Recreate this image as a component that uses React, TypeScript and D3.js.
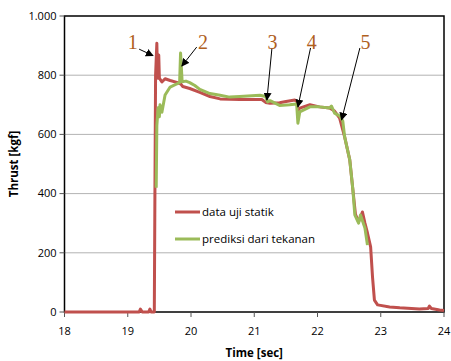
import React from "react";
import * as d3 from "d3";

// static test thrust (red) and prediction from chamber pressure (green)
const staticTest: [number, number][] = [
  [18, 0], [19.18, 0], [19.2, 10], [19.23, 0], [19.33, 0], [19.35, 10], [19.37, 0],
  [19.42, 0], [19.43, 420], [19.44, 800], [19.46, 908], [19.47, 800], [19.48, 790],
  [19.49, 868], [19.5, 790], [19.54, 777], [19.59, 788], [19.67, 782], [19.79, 775],
  [19.84, 770], [19.87, 762], [19.98, 755], [20.14, 742], [20.3, 728], [20.46, 720],
  [20.77, 718], [21.12, 718], [21.18, 708], [21.25, 705], [21.4, 707], [21.48, 710],
  [21.64, 716], [21.68, 710], [21.69, 680], [21.72, 689], [21.88, 700], [22.03, 693],
  [22.19, 689], [22.27, 679], [22.35, 655], [22.43, 591], [22.51, 514], [22.56, 412],
  [22.6, 330], [22.65, 305], [22.71, 338], [22.75, 300], [22.79, 267], [22.84, 220],
  [22.87, 118], [22.9, 40], [22.95, 24], [23.14, 17], [23.3, 14], [23.61, 10],
  [23.75, 12], [23.77, 20], [23.8, 12], [23.93, 7], [24, 5],
];

const prediction: [number, number][] = [
  [19.45, 420], [19.46, 630], [19.48, 690], [19.5, 660], [19.51, 700], [19.54, 675],
  [19.59, 733], [19.67, 760], [19.75, 768], [19.82, 775], [19.835, 875], [19.86, 778],
  [19.92, 780], [19.98, 775], [20.06, 765], [20.14, 752], [20.3, 738], [20.46, 732],
  [20.61, 726], [20.77, 728], [21.09, 732], [21.18, 728], [21.21, 710], [21.25, 714],
  [21.4, 698], [21.56, 700], [21.67, 703], [21.69, 638], [21.72, 676], [21.88, 693],
  [22.03, 693], [22.19, 689], [22.22, 696], [22.27, 672], [22.35, 662], [22.4, 645],
  [22.43, 591], [22.51, 514], [22.56, 412], [22.59, 328], [22.65, 300], [22.68, 328],
  [22.75, 284], [22.79, 226],
];

const xTicks = [18, 19, 20, 21, 22, 23, 24];
const yTicks = [0, 200, 400, 600, 800, 1000];
const yTickLabels = ["0", "200", "400", "600", "800", "1.000"];

// numbered callouts: label position, arrow start, arrow tip (data units)
const callouts = [
  { n: "1", label: [19.08, 912], from: [19.18, 888], to: [19.4, 866] },
  { n: "2", label: [20.19, 912], from: [20.09, 895], to: [19.855, 831] },
  { n: "3", label: [21.29, 912], from: [21.28, 892], to: [21.2, 716] },
  { n: "4", label: [21.91, 912], from: [21.89, 892], to: [21.69, 693] },
  { n: "5", label: [22.76, 912], from: [22.67, 892], to: [22.38, 649] },
];

const legendItems = [
  { name: "data uji statik", color: "#C0504D" },
  { name: "prediksi dari tekanan", color: "#9BBB59" },
];

const W = 451;
const H = 361;
const m = { left: 64.5, right: 7, top: 16, bottom: 49 };
const font = "'Open Sans', sans-serif";

export default function App() {
  const x = d3.scaleLinear().domain([18, 24]).range([m.left, W - m.right]);
  const y = d3.scaleLinear().domain([0, 1000]).range([H - m.bottom, m.top]);
  const line = d3.line<[number, number]>().x(d => x(d[0])).y(d => y(d[1]));

  const x0 = x(18), x1 = x(24), y0 = y(0), y1 = y(1000);

  return (
    <svg width={W} height={H} style={{ position: "absolute", left: 0, top: 0, background: "#fff" }}>
      <defs>
        <marker id="ah" viewBox="0 0 10 10" refX="9" refY="5" markerWidth="8" markerHeight="8"
          markerUnits="userSpaceOnUse" orient="auto">
          <path d="M0,0 L10,5 L0,10 z" fill="#000" />
        </marker>
      </defs>

      {yTicks.slice(1, -1).map(t => (
        <line key={t} x1={x0} x2={x1} y1={y(t)} y2={y(t)} stroke="#b3b3b3" strokeWidth={1} />
      ))}

      <rect x={x0} y={y1} width={x1 - x0} height={y0 - y1} fill="none" stroke="#000" strokeWidth={1.5} />

      {yTicks.map((t, i) => (
        <g key={t}>
          <line x1={x0 - 5} x2={x0} y1={y(t)} y2={y(t)} stroke="#555" />
          <text x={x0 - 8} y={y(t)} dy="0.35em" textAnchor="end" fontSize={11} fontFamily={font} fill="#000">
            {yTickLabels[i]}
          </text>
        </g>
      ))}
      {xTicks.map(t => (
        <g key={t}>
          <line x1={x(t)} x2={x(t)} y1={y0} y2={y0 + 5} stroke="#555" />
          <text x={x(t)} y={y0 + 19} dy="0.35em" textAnchor="middle" fontSize={11} fontFamily={font} fill="#000">
            {t}
          </text>
        </g>
      ))}

      <path d={line(staticTest) ?? ""} fill="none" stroke="#C0504D" strokeWidth={3} strokeLinejoin="round" />
      <path d={line(prediction) ?? ""} fill="none" stroke="#9BBB59" strokeWidth={3} strokeLinejoin="round" />

      {callouts.map(c => (
        <g key={c.n}>
          <line x1={x(c.from[0])} y1={y(c.from[1])} x2={x(c.to[0])} y2={y(c.to[1])}
            stroke="#000" strokeWidth={1} markerEnd="url(#ah)" />
          <text x={x(c.label[0])} y={y(c.label[1])} dy="0.35em" textAnchor="middle"
            fontSize={20} fontFamily="'Liberation Serif', serif" fill="#B0601E">
            {c.n}
          </text>
        </g>
      ))}

      {legendItems.map((d, i) => (
        <g key={d.name} transform={`translate(175, ${212 + i * 27})`}>
          <line x1={0} x2={25} y1={0} y2={0} stroke={d.color} strokeWidth={3} />
          <text x={27} y={0} dy="0.35em" fontSize={11.5} fontFamily={font} fill="#000">{d.name}</text>
        </g>
      ))}

      <text x={(x0 + x1) / 2} y={353} dy="0.35em" textAnchor="middle" fontSize={11.5} fontWeight="bold" fontFamily={font}>
        Time [sec]
      </text>
      <text transform={`translate(14, ${(y0 + y1) / 2}) rotate(-90)`} dy="0.35em" textAnchor="middle"
        fontSize={11.5} fontWeight="bold" fontFamily={font}>
        Thrust [kgf]
      </text>
    </svg>
  );
}
